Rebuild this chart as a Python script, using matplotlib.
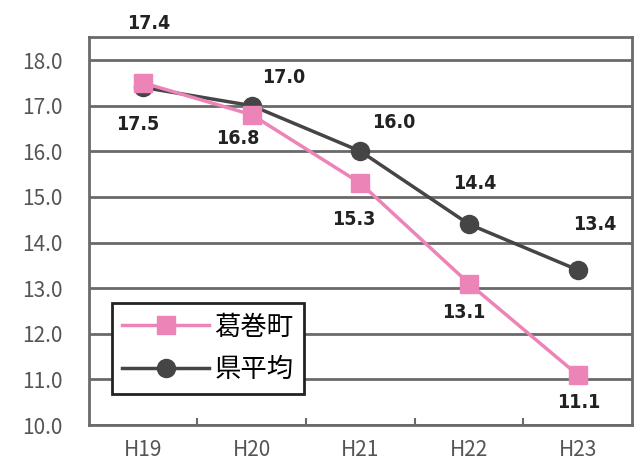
import matplotlib
matplotlib.use("Agg")
import matplotlib.pyplot as plt

categories = ["H19", "H20", "H21", "H22", "H23"]
kuzumaki = [17.5, 16.8, 15.3, 13.1, 11.1]
ken_avg = [17.4, 17.0, 16.0, 14.4, 13.4]
yticks = [10.0, 11.0, 12.0, 13.0, 14.0, 15.0, 16.0, 17.0, 18.0]

# label offsets in pixels (dx, dy) relative to point centre
kuz_off = [(-5, -42), (-14, -24), (-7, -36), (-5, -29), (1, -28)]
ken_off = [(6, 64), (32, 28), (33, 29), (6, 41), (17, 45)]

plt.rcParams['font.family'] = ['Noto Sans CJK JP', 'DejaVu Sans']

fig = plt.figure(figsize=(6.39, 4.65), dpi=100)
ax = fig.add_axes([0.139, 0.086, 0.850, 0.834])

x = list(range(len(categories)))
pink = "#EC84B8"
dark = "#454545"
grid_c = "#6a6a6a"

for y in yticks:
    ax.axhline(y, color=grid_c, lw=2.0, zorder=1)

ax.plot(x, ken_avg, color=dark, lw=2.5, marker="o", ms=13, zorder=3, label="県平均")
ax.plot(x, kuzumaki, color=pink, lw=2.5, marker="s", ms=13, zorder=4, label="葛巻町")

lab_font = dict(family=['DejaVu Sans'], stretch='condensed', weight='bold', size=14, color="#222222")
for xi, v, (dx, dy) in zip(x, kuzumaki, kuz_off):
    ax.annotate(f"{v:.1f}", (xi, v), xytext=(dx, dy), textcoords='offset pixels',
                ha='center', va='center', annotation_clip=False, **lab_font)
for xi, v, (dx, dy) in zip(x, ken_avg, ken_off):
    ax.annotate(f"{v:.1f}", (xi, v), xytext=(dx, dy), textcoords='offset pixels',
                ha='center', va='center', annotation_clip=False, **lab_font)

ax.set_xlim(-0.5, 4.5)
ax.set_ylim(10.0, 18.5)
ax.set_xticks(x)
ax.set_xticklabels(categories)
ax.set_xticks([0.5, 1.5, 2.5, 3.5], minor=True)
ax.set_yticks(yticks)
ax.set_yticklabels([f"{v:.1f}" for v in yticks])
ax.tick_params(axis='both', which='major', length=0, labelsize=15, labelcolor="#555555")
ax.tick_params(axis='y', which='major', pad=19)
ax.tick_params(axis='x', which='major', pad=10)
ax.tick_params(axis='x', which='minor', direction='in', length=5, width=1.5, color=grid_c)
for s in ax.spines.values():
    s.set_color(grid_c)
    s.set_linewidth(2.0)

handles, labels = ax.get_legend_handles_labels()
leg = ax.legend(handles[::-1], labels[::-1], loc='lower left', bbox_to_anchor=(0.042, 0.08),
                prop={'family': ['Noto Sans CJK JP', 'DejaVu Sans'], 'size': 19},
                frameon=True, fancybox=False, framealpha=1, edgecolor="#222222",
                handlelength=3.3, handletextpad=0.2, borderpad=0.4, labelspacing=0.6,
                borderaxespad=0)
leg.get_frame().set_linewidth(2.0)
leg.set_zorder(5)

fig.savefig("out.png", dpi=100)
